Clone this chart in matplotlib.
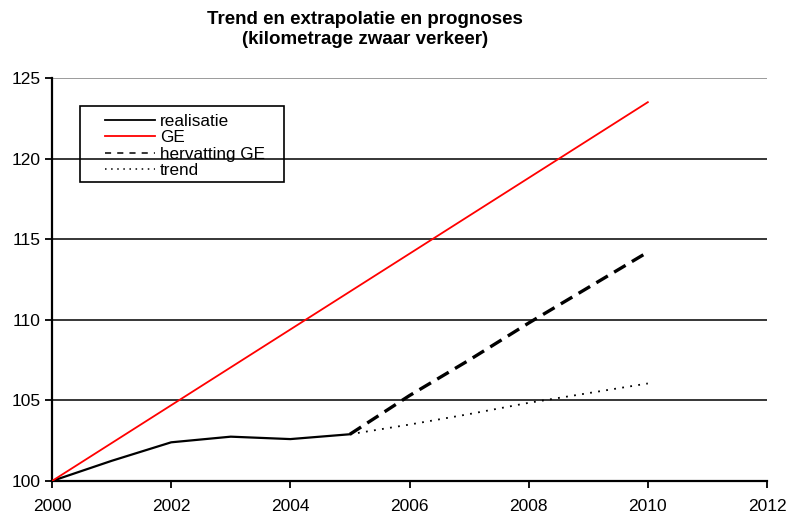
import matplotlib.pyplot as plt
from matplotlib.lines import Line2D
from matplotlib.patches import Rectangle

plt.rcParams['font.family'] = ['Liberation Sans', 'DejaVu Sans']

# data
years_real = [2000, 2001, 2002, 2003, 2004, 2005]
realisatie = [100.0, 101.25, 102.4, 102.75, 102.6, 102.9]

years_ge = [2000, 2010]
ge = [100.0, 123.5]

years_prog = [2005, 2006, 2007, 2008, 2009, 2010]
hervatting = [102.9, 105.3, 107.5, 109.8, 112.0, 114.2]
trend = [102.9, 103.5, 104.15, 104.85, 105.45, 106.05]

xticks = [2000, 2002, 2004, 2006, 2008, 2010, 2012]
yticks = [100, 105, 110, 115, 120, 125]
labels = ['realisatie', 'GE', 'hervatting GE', 'trend']

W, H = 786, 515
fig = plt.figure(figsize=(W/100, H/100), dpi=100)
ax = fig.add_axes([52/W, 1-481/H, (767-52)/W, (481-78)/H])

for yv in yticks[1:-1]:
    ax.axhline(yv, color='black', lw=1.1, zorder=1)
ax.axhline(125, color='#808080', lw=1.1, zorder=1)

ax.plot(years_real, realisatie, color='black', lw=1.6, zorder=3)
ax.plot(years_ge, ge, color='red', lw=1.3, zorder=3)
ax.plot(years_prog, hervatting, color='black', lw=2.4, dashes=(4, 2.2), zorder=3)
ax.plot(years_prog, trend, color='black', lw=1.3, dashes=(1, 3.5), zorder=3)

ax.set_xlim(2000, 2012)
ax.set_ylim(100, 125)
ax.set_xticks(xticks)
ax.set_yticks(yticks)
ax.tick_params(axis='both', direction='out', length=5, width=1.3,
               labelsize=12.5, color='black')
ax.tick_params(axis='x', pad=8)
ax.tick_params(axis='y', pad=3)
for s in ['top', 'right']:
    ax.spines[s].set_visible(False)
ax.spines['left'].set_linewidth(1.6)
ax.spines['bottom'].set_linewidth(1.6)

# legend
handles = [
    Line2D([], [], color='black', lw=1.3),
    Line2D([], [], color='red', lw=1.3),
    Line2D([], [], color='black', lw=1.1, dashes=(4, 4)),
    Line2D([], [], color='black', lw=1.1, dashes=(1, 3)),
]
leg = fig.legend(handles, labels, loc='upper left',
                 bbox_to_anchor=(105/W, 1-113.5/H),
                 fontsize=12.3, frameon=False, handlelength=2.9,
                 handletextpad=0.3, labelspacing=0.09, borderpad=0,
                 borderaxespad=0)
fig.patches.append(Rectangle((80/W, 1-182/H), 204/W, 76/H, transform=fig.transFigure,
                             facecolor='none', edgecolor='black', lw=1.2))

fig.text(365/W, 1-19/H, 'Trend en extrapolatie en prognoses',
         ha='center', va='center', fontsize=13.5, fontweight='bold')
fig.text(365/W, 1-40/H, '(kilometrage zwaar verkeer)',
         ha='center', va='center', fontsize=13.5, fontweight='bold')

fig.savefig('out.png', dpi=100)
